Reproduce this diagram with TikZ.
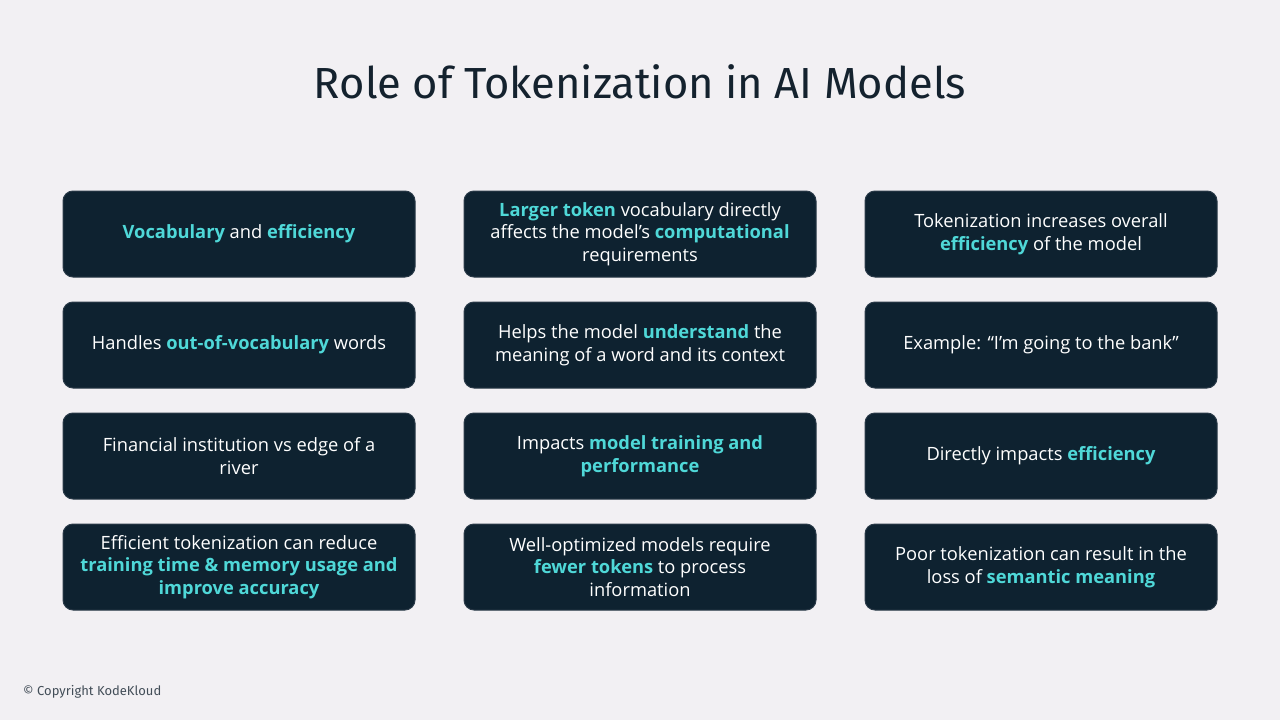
\documentclass[tikz,border=0pt]{standalone}
\usepackage{fontspec}
\setmainfont{Open Sans}
\newfontfamily\titlefont{Fira Sans}
\definecolor{bg}{HTML}{F2F0F3}
\definecolor{boxfill}{HTML}{0E2230}
\definecolor{boxline}{HTML}{2A3A48}
\definecolor{hl}{HTML}{4FD8D8}
\definecolor{ttl}{HTML}{14222E}
\newcommand{\hi}[1]{{\color{hl}\bfseries #1}}
\tikzset{card/.style={draw=boxline,line width=1pt,fill=boxfill,rounded corners=10pt,minimum width=352pt,minimum height=86pt,align=center,text=white,font=\fontsize{18.3}{22.5}\selectfont,inner sep=0pt}}
\begin{document}
\begin{tikzpicture}[x=1pt,y=-1pt]
\fill[bg] (0,0) rectangle (1280,720);
\useasboundingbox (0,0) rectangle (1280,720);
\node (title) at (640,82) {\titlefont\fontsize{43.5}{48}\selectfont\color{ttl}Role of Tokenization in AI Models};
\node[card] (a1) at (239,234) {\hi{Vocabulary} and \hi{efficiency}};
\node[card] (a2) at (640,234) {\hi{Larger token} vocabulary directly\\affects the model’s \hi{computational}\\requirements};
\node[card] (a3) at (1041,234) {Tokenization increases overall\\\hi{efficiency} of the model};
\node[card] (b1) at (239,345) {Handles \hi{out-of-vocabulary} words};
\node[card] (b2) at (640,345) {Helps the model \hi{understand} the\\meaning of a word and its context};
\node[card] (b3) at (1041,345) {Example: “I’m going to the bank”};
\node[card] (c1) at (239,456) {Financial institution vs edge of a\\river};
\node[card] (c2) at (640,456) {Impacts \hi{model training and}\\\hi{performance}};
\node[card] (c3) at (1041,456) {Directly impacts \hi{efficiency}};
\node[card] (d1) at (239,567) {Efficient tokenization can reduce\\\hi{training time \& memory usage and}\\\hi{improve accuracy}};
\node[card] (d2) at (640,567) {Well-optimized models require\\\hi{fewer tokens} to process\\information};
\node[card] (d3) at (1041,567) {Poor tokenization can result in the\\loss of \hi{semantic meaning}};
\node[anchor=west,inner sep=0pt] (copy) at (23,692) {\titlefont\fontsize{13}{14}\selectfont\color{ttl!80}© Copyright KodeKloud};
\end{tikzpicture}
\end{document}
